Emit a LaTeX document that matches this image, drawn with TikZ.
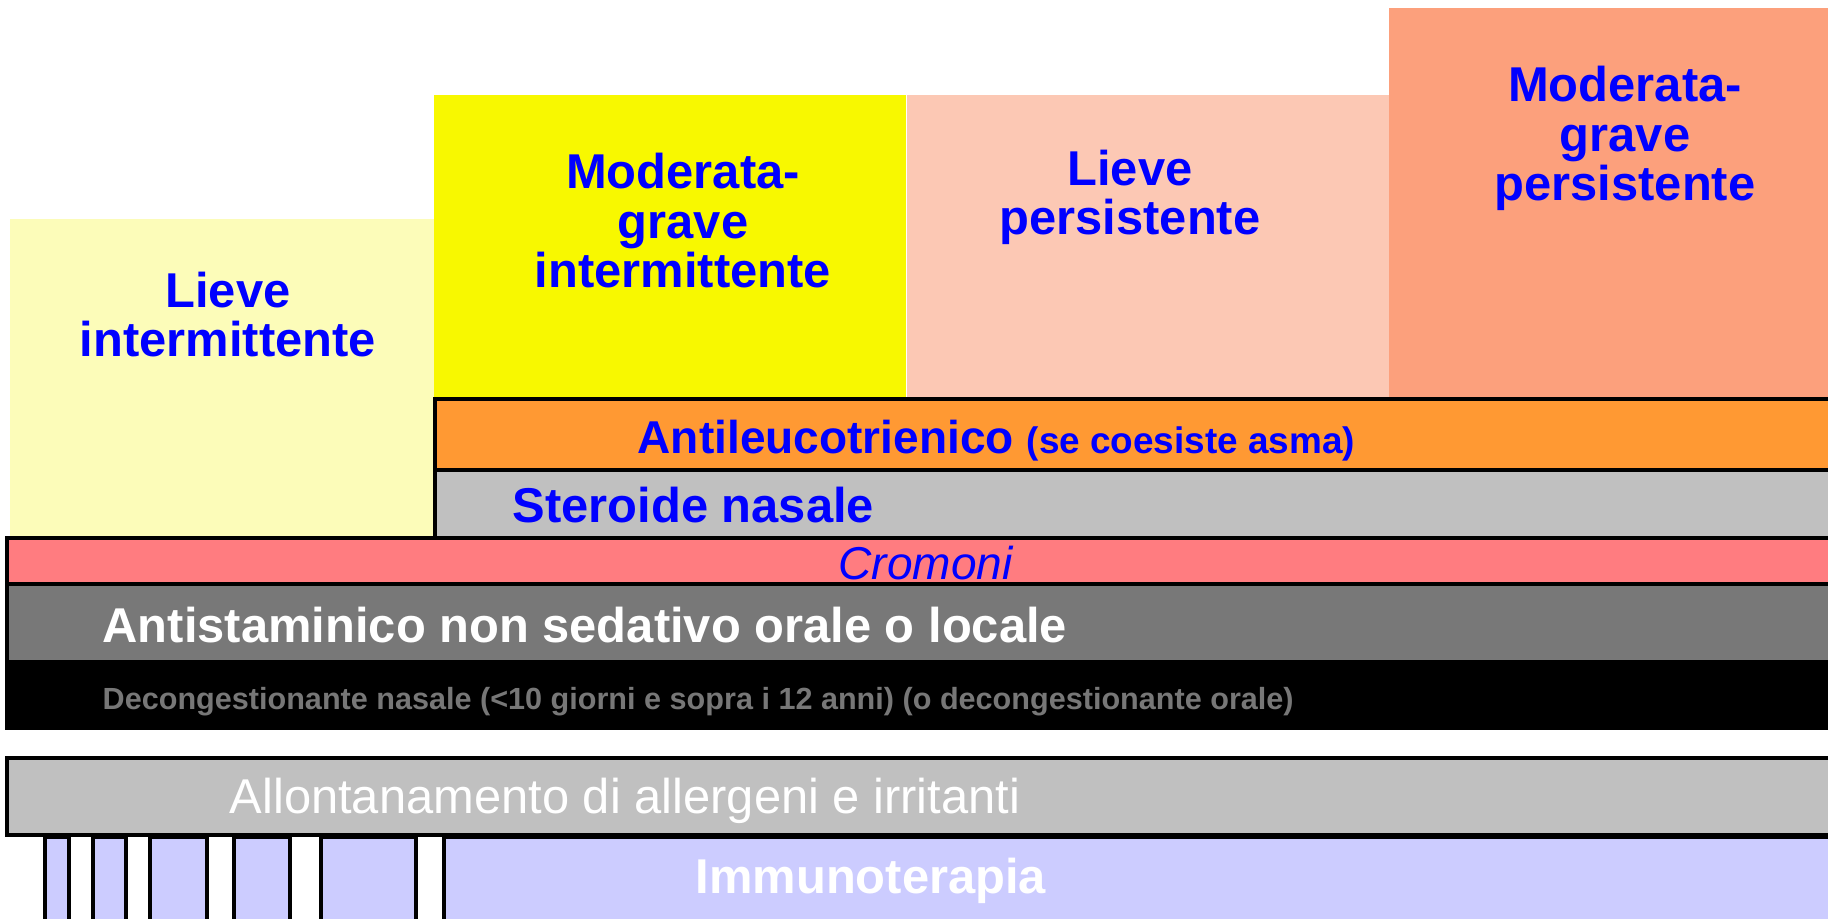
\documentclass[tikz,border=0pt]{standalone}
\usepackage{fontspec}
\setmainfont{Liberation Sans}
\setsansfont{Liberation Sans}

\definecolor{tblue}{HTML}{0000FF}
\definecolor{liyellow}{HTML}{FCFCB9}
\definecolor{mgiyellow}{HTML}{F8F800}
\definecolor{lppink}{HTML}{FCC8B4}
\definecolor{mgpsalmon}{HTML}{FCA07C}
\definecolor{leucorange}{HTML}{FF9933}
\definecolor{silver}{HTML}{C0C0C0}
\definecolor{cromred}{HTML}{FF7C80}
\definecolor{antigray}{HTML}{787878}
\definecolor{decgray}{HTML}{777777}
\definecolor{immuno}{HTML}{CCCCFF}

\begin{document}
\begin{tikzpicture}[x=0.01cm, y=-0.01cm,
  bar/.style={draw=black, line width=1.14pt},
  heading/.style={text=tblue, font=\bfseries\fontsize{13.9pt}{14.2pt}\selectfont,
    align=center, inner sep=0pt, anchor=base},
  barlabel/.style={font=\bfseries\fontsize{13.9pt}{14pt}\selectfont,
    inner sep=0pt, anchor=base west}]
  \clip (0,0) rectangle (1828,919);
  \fill[white] (0,0) rectangle (1828,919);

  % severity classes (anchor = baseline of last line)
  \fill[liyellow] (10,219) rectangle (437,560);
  \fill[mgiyellow] (434,95) rectangle (906,400);
  \fill[lppink] (907,95) rectangle (1389,400);
  \fill[mgpsalmon] (1389,8) rectangle (1840,400);
  \node[heading] (LI) at (228,357) {Lieve\\intermittente};
  \node[heading] (MGI) at (683,288) {Moderata-\\grave\\intermittente};
  \node[heading] (LP) at (1130,235) {Lieve\\persistente};
  \node[heading] (MGP) at (1625,201) {Moderata-\\grave\\persistente};

  % treatments
  \draw[bar, fill=leucorange] (435,399) rectangle (1840,470);
  \draw[bar, fill=silver] (435,470) rectangle (1840,538);
  \draw[bar, fill=cromred] (7,538) rectangle (1840,584);
  \fill[black] (5,584) rectangle (1840,730);
  \fill[antigray] (9,586) rectangle (1840,660);
  \node[barlabel, text=tblue, font=\bfseries\fontsize{13.1pt}{14pt}\selectfont] (leuco) at (637,454)
    {Antileucotrienico {\fontsize{10.5pt}{12pt}\selectfont(se coesiste asma)}};
  \node[barlabel, text=tblue] (ster) at (512,522) {Steroide nasale};
  \node[barlabel, text=tblue, font=\itshape\fontsize{13.1pt}{14pt}\selectfont] (crom) at (838,579) {Cromoni};
  \node[barlabel, text=white] (anti) at (102,642) {Antistaminico non sedativo orale o locale};
  \node[barlabel, text=decgray, font=\bfseries\fontsize{8.7pt}{10pt}\selectfont] (decong) at (102,709)
    {Decongestionante nasale (<10 giorni e sopra i 12 anni) (o decongestionante orale)};

  % allergen avoidance and immunotherapy
  \foreach \l/\r in {44.7/68.8, 92.7/126.3, 150.3/207, 234.3/290.3, 321/416.3, 443.7/1840}
    \draw[bar, fill=immuno] (\l,837) rectangle (\r,940);
  \draw[bar, fill=silver] (7,758) rectangle (1840,835);
  \node[barlabel, text=white, font=\fontsize{13.9pt}{14pt}\selectfont] (allont) at (229,813)
    {Allontanamento di allergeni e irritanti};
  \node[barlabel, text=white] (immunot) at (695,893) {Immunoterapia};
\end{tikzpicture}
\end{document}
